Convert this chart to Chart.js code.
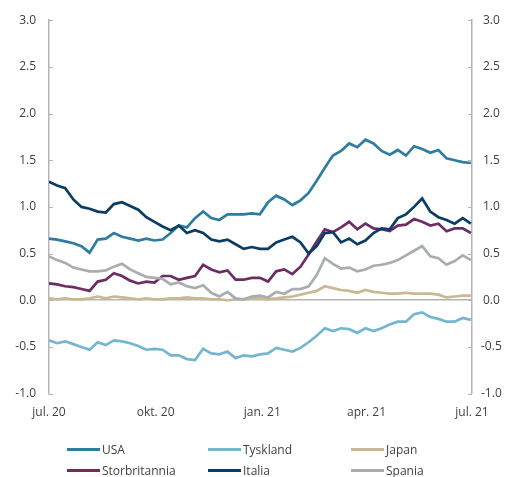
<!DOCTYPE html>
<html>
<head>
<meta charset="utf-8">
<script src="https://cdn.jsdelivr.net/npm/chart.js@4.4.1/dist/chart.umd.min.js"></script>
<style>
  html, body { margin: 0; padding: 0; background: #fff; }
  #wrap { position: relative; width: 510px; height: 477px; }
  #legend {
    position: absolute; left: 67px; top: 439px;
    display: grid; grid-template-columns: 141px 143px 141px; grid-auto-rows: 21px;
    font-family: "Open Sans", sans-serif; font-size: 12px; color: #404040;
  }
  .item { display: flex; align-items: center; }
  .swatch { display: inline-block; width: 33px; height: 3px; margin-right: 2px; }
</style>
</head>
<body>
<div id="wrap">
  <canvas id="chart" width="510" height="477"></canvas>
  <div id="legend"></div>
</div>
<script>
// weekly observations, day 0 = 1 jul 2020
const weekStep = 7;
const tickDays = [0, 92, 184, 274, 365];
const tickLabels = ['jul. 20', 'okt. 20', 'jan. 21', 'apr. 21', 'jul. 21'];

const seriesNames = ['USA', 'Tyskland', 'Japan', 'Storbritannia', 'Italia', 'Spania'];
const seriesColors = ['#2E7DA0', '#74B6CE', '#C8B992', '#6C2D63', '#0A3C64', '#A8ADB2'];

const usa = [0.66, 0.65, 0.63, 0.61, 0.58, 0.51, 0.65, 0.66, 0.72, 0.68, 0.66, 0.64, 0.66, 0.64,
  0.65, 0.72, 0.80, 0.78, 0.88, 0.95, 0.88, 0.86, 0.92, 0.92, 0.92, 0.93, 0.92, 1.05, 1.12, 1.08,
  1.02, 1.07, 1.15, 1.28, 1.42, 1.55, 1.60, 1.68, 1.64, 1.72, 1.68, 1.60, 1.56, 1.61, 1.55, 1.65,
  1.62, 1.58, 1.61, 1.52, 1.50, 1.48, 1.47];
const tyskland = [-0.43, -0.46, -0.44, -0.47, -0.50, -0.53, -0.45, -0.48, -0.43, -0.44, -0.46, -0.49,
  -0.53, -0.52, -0.53, -0.59, -0.59, -0.63, -0.64, -0.52, -0.57, -0.58, -0.55, -0.62, -0.59, -0.60,
  -0.58, -0.57, -0.51, -0.53, -0.55, -0.51, -0.45, -0.38, -0.30, -0.33, -0.30, -0.31, -0.35, -0.30,
  -0.33, -0.30, -0.26, -0.23, -0.23, -0.15, -0.13, -0.18, -0.20, -0.23, -0.23, -0.19, -0.21];
const japan = [0.02, 0.01, 0.02, 0.01, 0.01, 0.02, 0.04, 0.02, 0.04, 0.03, 0.02, 0.01, 0.02, 0.01,
  0.01, 0.02, 0.02, 0.03, 0.02, 0.02, 0.01, 0.01, 0.00, 0.01, 0.01, 0.02, 0.02, 0.01, 0.02, 0.03,
  0.04, 0.06, 0.08, 0.10, 0.15, 0.13, 0.11, 0.10, 0.08, 0.11, 0.09, 0.08, 0.07, 0.07, 0.08, 0.07,
  0.07, 0.07, 0.06, 0.03, 0.04, 0.05, 0.05];
const storbritannia = [0.18, 0.17, 0.15, 0.14, 0.12, 0.10, 0.20, 0.22, 0.29, 0.26, 0.21, 0.18, 0.20,
  0.19, 0.26, 0.26, 0.22, 0.24, 0.26, 0.38, 0.33, 0.30, 0.32, 0.22, 0.22, 0.24, 0.24, 0.20, 0.31,
  0.33, 0.28, 0.36, 0.49, 0.63, 0.76, 0.73, 0.78, 0.84, 0.76, 0.82, 0.77, 0.76, 0.74, 0.80, 0.81,
  0.87, 0.84, 0.80, 0.82, 0.74, 0.77, 0.77, 0.72];
const italia = [1.27, 1.23, 1.20, 1.08, 1.00, 0.98, 0.95, 0.94, 1.03, 1.05, 1.01, 0.97, 0.89, 0.84,
  0.79, 0.75, 0.80, 0.72, 0.75, 0.72, 0.65, 0.63, 0.65, 0.60, 0.55, 0.57, 0.55, 0.55, 0.62, 0.65,
  0.68, 0.62, 0.50, 0.58, 0.72, 0.73, 0.62, 0.66, 0.60, 0.64, 0.72, 0.77, 0.76, 0.88, 0.92, 1.00,
  1.09, 0.95, 0.89, 0.86, 0.82, 0.88, 0.82];
const spania = [0.47, 0.43, 0.40, 0.35, 0.33, 0.31, 0.31, 0.32, 0.36, 0.39, 0.33, 0.29, 0.25, 0.24,
  0.23, 0.17, 0.19, 0.15, 0.13, 0.16, 0.08, 0.04, 0.09, 0.02, 0.01, 0.04, 0.05, 0.03, 0.09, 0.07,
  0.12, 0.12, 0.15, 0.27, 0.45, 0.39, 0.34, 0.35, 0.31, 0.33, 0.37, 0.38, 0.40, 0.43, 0.48, 0.53,
  0.58, 0.47, 0.45, 0.38, 0.42, 0.48, 0.43];

const seriesValues = [usa, tyskland, japan, storbritannia, italia, spania];

const axisColor = '#B4B4B4';
const textColor = '#404040';
const font = { family: 'Open Sans', size: 12 };

// small tick marks drawn inward from both y axis lines
const innerTicks = {
  id: 'innerTicks',
  afterDraw(chart) {
    const ctx = chart.ctx;
    ctx.save();
    ctx.strokeStyle = axisColor;
    ctx.lineWidth = 1;
    ['y', 'y2'].forEach(id => {
      const s = chart.scales[id];
      const x0 = id === 'y' ? chart.chartArea.left : chart.chartArea.right;
      const dir = id === 'y' ? 1 : -1;
      s.ticks.forEach(t => {
        const py = Math.round(s.getPixelForValue(t.value)) + 0.5;
        ctx.beginPath();
        ctx.moveTo(x0, py);
        ctx.lineTo(x0 + dir * 4, py);
        ctx.stroke();
      });
    });
    ctx.restore();
  }
};

const datasets = seriesNames.map((name, i) => ({
  label: name,
  data: seriesValues[i].map((v, k) => ({ x: k * weekStep, y: v })),
  borderColor: seriesColors[i],
  backgroundColor: seriesColors[i],
  borderWidth: 2.7,
  pointRadius: 0,
  tension: 0,
  order: seriesNames.length - i
}));

new Chart(document.getElementById('chart'), {
  type: 'line',
  data: { datasets: datasets },
  options: {
    responsive: false,
    animation: false,
    devicePixelRatio: 1,
    layout: { padding: { left: 15, right: 7, top: 11, bottom: 53 } },
    plugins: { legend: { display: false }, tooltip: { enabled: false } },
    scales: {
      x: {
        type: 'linear',
        min: 0,
        max: 365,
        afterBuildTicks: (scale) => { scale.ticks = tickDays.map(v => ({ value: v })); },
        ticks: {
          autoSkip: false,
          maxRotation: 0,
          padding: 4,
          color: textColor,
          font: font,
          callback: (value) => tickLabels[tickDays.indexOf(value)]
        },
        grid: { display: false },
        border: { display: false }
      },
      y: {
        position: 'left',
        min: -1,
        max: 3,
        afterFit: (s) => { s.width = 34; },
        ticks: { stepSize: 0.5, padding: 13, color: textColor, font: font, callback: v => v.toFixed(1) },
        grid: {
          drawTicks: false,
          color: (c) => c.tick && c.tick.value === 0 ? axisColor : 'rgba(0,0,0,0)',
          lineWidth: 1.5
        },
        border: { display: true, color: axisColor, width: 1.5 }
      },
      y2: {
        position: 'right',
        min: -1,
        max: 3,
        afterFit: (s) => { s.width = 31; },
        ticks: { stepSize: 0.5, padding: 9, crossAlign: 'center', color: textColor, font: font, callback: v => v.toFixed(1) },
        grid: { drawTicks: false, drawOnChartArea: false },
        border: { display: true, color: axisColor, width: 1.5 }
      }
    }
  },
  plugins: [innerTicks]
});

// legend in three columns, like the original
const legend = document.getElementById('legend');
seriesNames.forEach((name, i) => {
  const item = document.createElement('div');
  item.className = 'item';
  item.innerHTML = `<span class="swatch" style="background:${seriesColors[i]}"></span>${name}`;
  legend.appendChild(item);
});
</script>
</body>
</html>
